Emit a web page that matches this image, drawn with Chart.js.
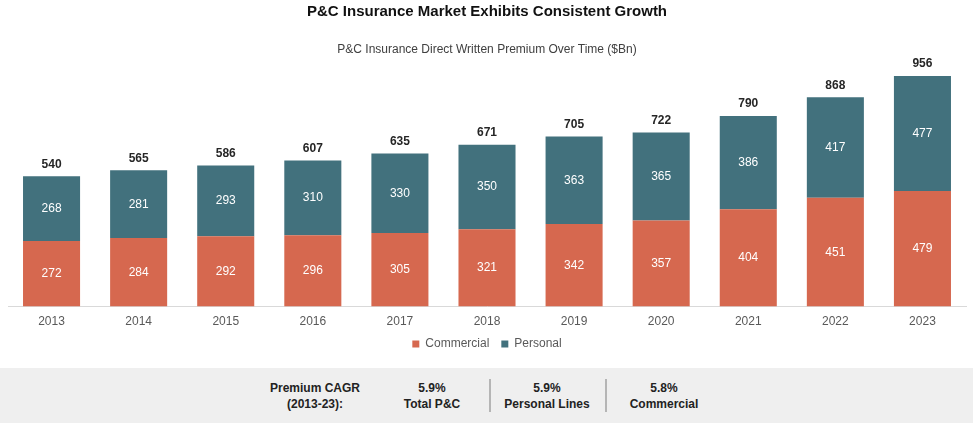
<!DOCTYPE html>
<html>
<head>
<meta charset="utf-8">
<script src="https://cdn.jsdelivr.net/npm/chart.js@4"></script>
<style>
    body { margin: 0; background: #fff; font-family: "Liberation Sans", Arial, sans-serif; }
    #wrap { position: relative; width: 973px; height: 423px; overflow: hidden; }
    #chart-box { position: absolute; left: 0; top: 0; width: 973px; height: 367px; }
    #band { position: absolute; left: 0; top: 368px; width: 973px; height: 55px; background: #efefef; }
    .cell { position: absolute; top: 12px; width: 130px; text-align: center; font-weight: bold; font-size: 12px; line-height: 16px; color: #222; }
    .divider { position: absolute; top: 11px; width: 2px; height: 33px; background: #b5b5b5; }
</style>
</head>
<body>
<div id="wrap">
    <div id="chart-box"><canvas id="premiumChart" width="973" height="367"></canvas></div>
    <div id="band">
        <div class="cell" style="left:250px">Premium CAGR<br>(2013-23):</div>
        <div class="cell" style="left:367px">5.9%<br>Total P&amp;C</div>
        <div class="divider" style="left:489px"></div>
        <div class="cell" style="left:482px">5.9%<br>Personal Lines</div>
        <div class="divider" style="left:605px"></div>
        <div class="cell" style="left:599px">5.8%<br>Commercial</div>
    </div>
</div>
<script>
const years = ['2013', '2014', '2015', '2016', '2017', '2018', '2019', '2020', '2021', '2022', '2023'];
const commercial = [272, 284, 292, 296, 305, 321, 342, 357, 404, 451, 479];
const personal = [268, 281, 293, 310, 330, 350, 363, 365, 386, 417, 477];
const totals = [540, 565, 586, 607, 635, 671, 705, 722, 790, 868, 956];

const commercialColor = '#d6684f';
const personalColor = '#42717d';
const fontFamily = '"Liberation Sans", Arial, sans-serif';

// labels in the middle of each segment, and totals above the stack
const barLabels = {
    id: 'barLabels',
    afterDatasetsDraw(chart) {
        const ctx = chart.ctx;
        ctx.save();
        ctx.textAlign = 'center';
        ctx.textBaseline = 'middle';
        chart.data.datasets.forEach((ds, i) => {
            const meta = chart.getDatasetMeta(i);
            ctx.fillStyle = '#ffffff';
            ctx.font = '12px ' + fontFamily;
            meta.data.forEach((bar, j) => {
                const mid = (bar.y + bar.base) / 2;
                ctx.fillText(ds.data[j], bar.x, mid);
            });
        });
        const top = chart.getDatasetMeta(1);
        ctx.fillStyle = '#262626';
        ctx.font = 'bold 12px ' + fontFamily;
        top.data.forEach((bar, j) => {
            ctx.fillText(totals[j], bar.x, bar.y - 12);
        });
        ctx.restore();
    }
};

const ctx = document.getElementById('premiumChart').getContext('2d');
const chart = new Chart(ctx, {
    type: 'bar',
    data: {
        labels: years,
        datasets: [
            { label: 'Commercial', data: commercial, backgroundColor: commercialColor },
            { label: 'Personal', data: personal, backgroundColor: personalColor }
        ]
    },
    options: {
        responsive: false,
        animation: false,
        layout: { padding: { left: 8, right: 7, top: 0, bottom: 7 } },
        datasets: { bar: { categoryPercentage: 1, barPercentage: 0.655 } },
        plugins: {
            title: {
                display: true,
                text: 'P&C Insurance Market Exhibits Consistent Growth',
                color: '#111',
                font: { family: fontFamily, size: 15, weight: 'bold' },
                padding: { top: 3, bottom: 1 }
            },
            subtitle: {
                display: true,
                text: 'P&C Insurance Direct Written Premium Over Time ($Bn)',
                color: '#404040',
                font: { family: fontFamily, size: 12 },
                padding: { top: 20, bottom: 9 }
            },
            legend: {
                position: 'bottom',
                labels: {
                    boxWidth: 7,
                    boxHeight: 7,
                    color: '#595959',
                    font: { family: fontFamily, size: 12 },
                    padding: 12
                }
            },
            tooltip: { enabled: false }
        },
        scales: {
            x: {
                stacked: true,
                grid: { display: false, drawTicks: false },
                border: { display: true, color: '#d9d9d9', width: 1 },
                ticks: { color: '#595959', font: { family: fontFamily, size: 12 }, padding: 8 },
                // pull the legend up closer to the year labels
                afterFit(scale) { scale.height -= 11; }
            },
            y: {
                stacked: true,
                display: false,
                min: 0,
                max: 1000
            }
        }
    },
    plugins: [barLabels]
});
</script>
</body>
</html>
